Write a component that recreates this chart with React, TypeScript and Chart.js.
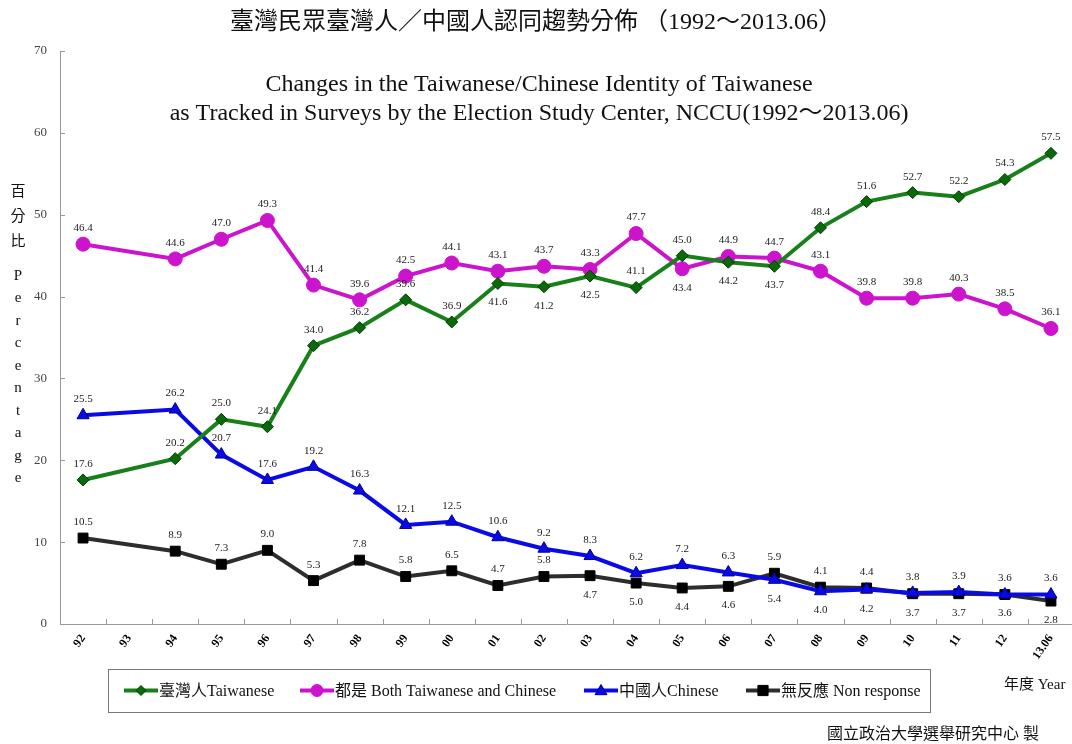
import React, { useEffect, useRef } from 'react';
import { Chart, registerables } from 'chart.js';

Chart.register(...registerables);

// ---------- data ----------
const years = ['92', '93', '94', '95', '96', '97', '98', '99', '00', '01', '02', '03', '04', '05', '06', '07', '08', '09', '10', '11', '12', '13.06'];
const taiwanese = [17.6, null, 20.2, 25.0, 24.1, 34.0, 36.2, 39.6, 36.9, 41.6, 41.2, 42.5, 41.1, 45.0, 44.2, 43.7, 48.4, 51.6, 52.7, 52.2, 54.3, 57.5];
const both = [46.4, null, 44.6, 47.0, 49.3, 41.4, 39.6, 42.5, 44.1, 43.1, 43.7, 43.3, 47.7, 43.4, 44.9, 44.7, 43.1, 39.8, 39.8, 40.3, 38.5, 36.1];
const chinese = [25.5, null, 26.2, 20.7, 17.6, 19.2, 16.3, 12.1, 12.5, 10.6, 9.2, 8.3, 6.2, 7.2, 6.3, 5.4, 4.0, 4.2, 3.8, 3.9, 3.6, 3.6];
const nonResponse = [10.5, null, 8.9, 7.3, 9.0, 5.3, 7.8, 5.8, 6.5, 4.7, 5.8, 5.9, 5.0, 4.4, 4.6, 6.2, 4.5, 4.4, 3.7, 3.7, 3.6, 2.8];
// printed labels of the non-response series (as printed in the source)
const nonResponseLabels = ['10.5', '', '8.9', '7.3', '9.0', '5.3', '7.8', '5.8', '6.5', '4.7', '5.8', '4.7', '5.0', '4.4', '4.6', '5.9', '4.1', '4.4', '3.7', '3.7', '3.6', '2.8'];
const yTickValues = [0, 10, 20, 30, 40, 50, 60, 70];

const seriesNames = ['臺灣人Taiwanese', '都是 Both Taiwanese and Chinese', '中國人Chinese', '無反應 Non response'];
const titleZh = '臺灣民眾臺灣人／中國人認同趨勢分佈 （1992～2013.06）';
const titleEn1 = 'Changes in the Taiwanese/Chinese Identity of Taiwanese';
const titleEn2 = 'as Tracked in Surveys by the Election Study Center, NCCU(1992～2013.06)';
const yTitleZh = ['百', '分', '比'];
const yTitleEn = ['P', 'e', 'r', 'c', 'e', 'n', 't', 'a', 'g', 'e'];
const xTitle = '年度 Year';
const credit = '國立政治大學選舉研究中心 製';

// ---------- styles ----------
const FONT = '"Liberation Serif", "Noto Sans CJK TC", serif';
const styles = [
  { line: 'rgb(24,128,24)', fill: 'rgb(10,105,10)', border: 'rgb(0,60,0)', marker: 'diamond', radius: 6, below: [9, 10, 11, 14, 15] },
  { line: 'rgb(204,20,204)', fill: 'rgb(204,20,204)', border: 'rgb(204,20,204)', marker: 'circle', radius: 7, below: [13] },
  { line: 'rgb(10,10,230)', fill: 'rgb(10,10,230)', border: 'rgb(0,0,150)', marker: 'triangle', radius: 7, below: [15, 16, 17] },
  { line: 'rgb(45,45,45)', fill: 'rgb(0,0,0)', border: 'rgb(0,0,0)', marker: 'rect', radius: 7, below: [11, 12, 13, 14, 18, 19, 20, 21] },
];
const legendBox = { left: 108, top: 669, width: 822, height: 43 };
const legendItemX = [124, 300, 584, 746];

function drawMarker(ctx: CanvasRenderingContext2D, kind: string, x: number, y: number, r: number, fill: string, border: string) {
  ctx.save();
  ctx.fillStyle = fill;
  ctx.strokeStyle = border;
  ctx.lineWidth = 1;
  ctx.beginPath();
  if (kind === 'diamond') {
    ctx.moveTo(x, y - r); ctx.lineTo(x + r, y); ctx.lineTo(x, y + r); ctx.lineTo(x - r, y); ctx.closePath();
  } else if (kind === 'circle') {
    ctx.arc(x, y, r, 0, Math.PI * 2);
  } else if (kind === 'triangle') {
    ctx.moveTo(x, y - r); ctx.lineTo(x + r, y + r * 0.7); ctx.lineTo(x - r, y + r * 0.7); ctx.closePath();
  } else {
    ctx.rect(x - r * 0.85, y - r * 0.85, r * 1.7, r * 1.7);
  }
  ctx.fill();
  ctx.stroke();
  ctx.restore();
}

const decorPlugin = {
  id: 'decor',
  afterDraw(chart: any) {
    const ctx: CanvasRenderingContext2D = chart.ctx;
    const { chartArea, scales } = chart;
    const xs = scales.x;
    const ys = scales.y;
    ctx.save();

    // inward tick marks
    ctx.strokeStyle = '#999';
    ctx.lineWidth = 1;
    yTickValues.forEach((v) => {
      const py = Math.round(ys.getPixelForValue(v)) + 0.5;
      ctx.beginPath(); ctx.moveTo(chartArea.left, py); ctx.lineTo(chartArea.left + 5, py); ctx.stroke();
    });
    for (let i = 1; i < years.length; i++) {
      const px = Math.round((xs.getPixelForValue(i - 1) + xs.getPixelForValue(i)) / 2) + 0.5;
      ctx.beginPath(); ctx.moveTo(px, chartArea.bottom); ctx.lineTo(px, chartArea.bottom - 5); ctx.stroke();
    }

    // data labels
    ctx.font = '11px ' + FONT;
    ctx.fillStyle = '#222';
    ctx.textAlign = 'center';
    ctx.textBaseline = 'middle';
    chart.data.datasets.forEach((ds: any, di: number) => {
      const meta = chart.getDatasetMeta(di);
      meta.data.forEach((pt: any, i: number) => {
        const v = ds.data[i];
        if (v === null || v === undefined) return;
        const txt = di === 3 ? nonResponseLabels[i] : v.toFixed(1);
        const below = styles[di].below.includes(i);
        ctx.fillText(txt, pt.x, pt.y + (below ? 19 : -16));
      });
    });

    // titles
    ctx.fillStyle = '#111';
    ctx.font = '24px ' + FONT;
    ctx.fillText(titleZh, 536, 23);
    ctx.fillText(titleEn1, 539, 85);
    ctx.fillText(titleEn2, 539, 114);

    // y axis title (vertical stacked)
    ctx.font = '15px ' + FONT;
    yTitleZh.forEach((c, i) => ctx.fillText(c, 18, 192 + i * 25));
    yTitleEn.forEach((c, i) => ctx.fillText(c, 18, 276 + i * 22.5));

    // x title and credit
    ctx.textAlign = 'left';
    ctx.font = '15px ' + FONT;
    ctx.fillText(xTitle, 1004, 685);
    ctx.font = '16px ' + FONT;
    ctx.fillText(credit, 827, 735);

    // legend
    ctx.strokeStyle = '#777';
    ctx.lineWidth = 1;
    ctx.strokeRect(legendBox.left + 0.5, legendBox.top + 0.5, legendBox.width, legendBox.height);
    const ly = legendBox.top + legendBox.height / 2;
    ctx.font = '16px ' + FONT;
    styles.forEach((st, i) => {
      const x0 = legendItemX[i];
      ctx.strokeStyle = st.line;
      ctx.lineWidth = 4;
      ctx.beginPath(); ctx.moveTo(x0, ly); ctx.lineTo(x0 + 34, ly); ctx.stroke();
      drawMarker(ctx, st.marker, x0 + 17, ly, st.radius - 1, st.fill, st.border);
      ctx.fillStyle = '#111';
      ctx.fillText(seriesNames[i], x0 + 35, ly + 1);
    });
    ctx.restore();
  },
};

const pointStyleMap: Record<string, string> = { diamond: 'rectRot', circle: 'circle', triangle: 'triangle', rect: 'rect' };

export default function App() {
  const ref = useRef<HTMLCanvasElement | null>(null);
  useEffect(() => {
    document.body.style.margin = '0';
    const canvas = ref.current;
    if (!canvas) return;
    Chart.defaults.font.family = FONT;
    const values = [taiwanese, both, chinese, nonResponse];
    const chart = new Chart(canvas, {
      type: 'line',
      data: {
        labels: years,
        datasets: values.map((d, i) => ({
          label: seriesNames[i],
          data: d,
          borderColor: styles[i].line,
          backgroundColor: styles[i].fill,
          pointBackgroundColor: styles[i].fill,
          pointBorderColor: styles[i].border,
          pointBorderWidth: 1,
          pointStyle: pointStyleMap[styles[i].marker] as any,
          pointRadius: styles[i].radius,
          borderWidth: 4,
          spanGaps: true,
          tension: 0,
        })),
      },
      options: {
        responsive: false,
        animation: false,
        layout: { padding: { top: 51, left: 0, right: 0, bottom: 0 } },
        plugins: {
          legend: { display: false },
          title: { display: false },
          tooltip: { enabled: false },
        },
        scales: {
          x: {
            offset: true,
            grid: { display: false, drawTicks: false, offset: true },
            border: { display: true, color: '#999' },
            ticks: {
              autoSkip: false,
              maxRotation: 55,
              minRotation: 55,
              padding: 8,
              color: '#000',
              font: { family: FONT, size: 12, weight: 'bold' },
            },
            afterFit: (s: any) => { s.height = 120; },
          },
          y: {
            min: 0,
            max: 70,
            grid: { display: false, drawTicks: false },
            border: { display: true, color: '#999' },
            ticks: {
              stepSize: 10,
              padding: 13,
              color: '#444',
              font: { family: FONT, size: 13 },
            },
            afterFit: (s: any) => { s.width = 60; },
          },
        },
      },
      plugins: [decorPlugin],
    });
    return () => chart.destroy();
  }, []);
  return (
    <div style={{ width: 1072, height: 744, overflow: 'hidden', background: '#fff' }}>
      <canvas ref={ref} width={1082} height={744} style={{ display: 'block' }} />
    </div>
  );
}
